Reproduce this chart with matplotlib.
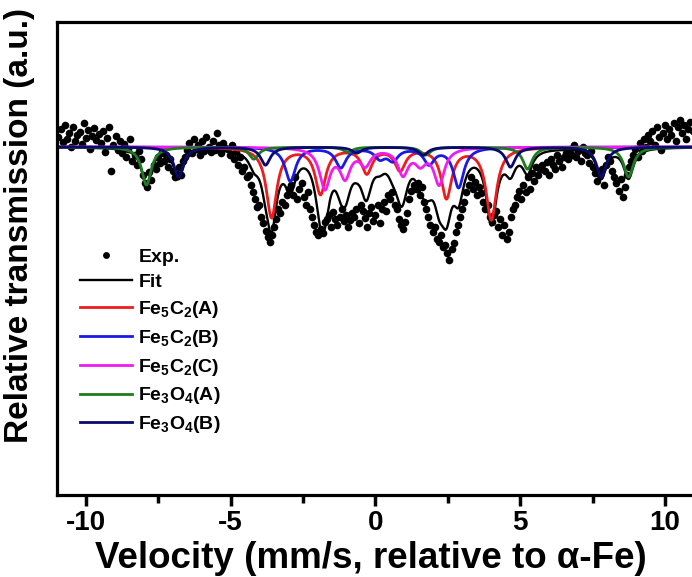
import numpy as np
import matplotlib
matplotlib.use('Agg')
import matplotlib.pyplot as plt
from matplotlib.ticker import MultipleLocator

plt.rcParams['font.family'] = ['Liberation Sans', 'DejaVu Sans']
plt.rcParams['font.weight'] = 'bold'
plt.rcParams['axes.unicode_minus'] = False
plt.rcParams['mathtext.fontset'] = 'custom'
plt.rcParams['mathtext.rm'] = 'Liberation Sans:bold'
plt.rcParams['mathtext.bf'] = 'Liberation Sans:bold'
plt.rcParams['mathtext.default'] = 'bf'

# 实验谱：速度网格 (mm/s) 和相对基线的吸收深度 (0.1 %)
exp_velocity = np.linspace(-10.95, 10.95, 301)
exp_depth = [
    -10, -18, -5, -22, -8, -14, 0, -20, -6, -12,
    -15, -3, -24, -9, -17, 2, -11, -19, -7, -13,
    -4, -16, 5, -9, -20, 24, -2, -11, 3, -6,
    6, -3, 10, 2, -8, 14, 8, 18, 4, 12,
    28, 36, 40, 25, 33, 18, 22, 10, 16, 5,
    14, 8, 20, 12, 24, 30, 27, 20, 28, 14,
    10, 3, -4, 6, -8, 2, -2, 8, -6, 4,
    -10, 0, 5, -6, 3, -14, -2, 6, -4, 1,
    2, 8, -2, 12, 5, 18, 10, 24, 20, 30,
    28, 38, 45, 52, 60, 58, 70, 76, 84, 90,
    95, 88, 80, 72, 62, 66, 55, 58, 48, 42,
    38, 48, 30, 52, 42, 36, 50, 58, 45, 62,
    70, 78, 85, 88, 82, 86, 75, 72, 68, 80,
    65, 72, 78, 70, 62, 74, 68, 80, 73, 66,
    70, 62, 76, 58, 64, 71, 80, 66, 60, 74,
    68, 58, 76, 62, 55, 64, 48, 52, 45, 58,
    62, 72, 78, 82, 75, 66, 52, 44, 38, 42,
    36, 48, 40, 55, 62, 70, 78, 85, 80, 92,
    95, 88, 100, 98, 106, 113, 102, 96, 85, 78,
    70, 62, 55, 45, 38, 30, 42, 35, 48, 40,
    46, 55, 62, 58, 70, 75, 68, 64, 80, 72,
    88, 78, 92, 85, 70, 62, 58, 50, 44, 52,
    38, 45, 30, 42, 26, 34, 20, 28, 22, 18,
    24, 15, 28, 12, 18, 22, 8, 14, 20, 10,
    6, 12, 2, 8, -2, 10, 4, 14, 0, 6,
    8, 16, 4, 20, 26, 34, 28, 22, 38, 18,
    10, 14, 24, 30, 36, 44, 32, 50, 40, 28,
    20, 14, 8, 2, 10, -4, 4, -8, 0, -12,
    -6, -16, -2, -20, -10, 3, -14, -22, -8, -18,
    -12, -24, -6, -20, -27, -14, -22, -8, -18, -25,
    -16,
]

# 各子谱：六条吸收线的位置 (mm/s)、深度 (0.1 %)、半宽 (mm/s)
fe5c2_a_pos = [-3.59, -1.90, -0.30, 0.85, 2.45, 4.00]
fe5c2_a_depth = [70, 46, 25, 22, 50, 72]
fe5c2_b_pos = [-2.94, -1.20, 0.15, 0.60, 1.85, 2.87]
fe5c2_b_depth = [34, 20, 10, 12, 16, 40]
fe5c2_c_pos = [-1.75, -1.05, -0.35, 0.95, 1.55, 2.20]
fe5c2_c_depth = [40, 28, 16, 26, 14, 36]
fe3o4_a_pos = [-7.91, -4.20, -0.95, 1.73, 5.25, 8.74]
fe3o4_a_depth = [38, 12, 5, 8, 22, 30]
fe3o4_b_pos = [-6.80, -3.80, -0.65, 1.65, 4.66, 7.80]
fe3o4_b_depth = [30, 18, 6, 8, 20, 30]
hwhm_carbide = 0.22
hwhm_oxide = 0.20

labels = ['Fe$_5$C$_2$(A)', 'Fe$_5$C$_2$(B)', 'Fe$_5$C$_2$(C)',
          'Fe$_3$O$_4$(A)', 'Fe$_3$O$_4$(B)']
colors = ['#ee1c1c', '#1a1ae6', '#f01cf0', '#1e7b1e', '#0a0a6e']

v = np.linspace(-11, 11, 2001)


def sextet(pos, depth, g):
    d = np.zeros_like(v)
    for p, a in zip(pos, depth):
        d += a * g**2 / ((v - p)**2 + g**2)
    return d


components = [
    sextet(fe5c2_a_pos, fe5c2_a_depth, hwhm_carbide),
    sextet(fe5c2_b_pos, fe5c2_b_depth, hwhm_carbide),
    sextet(fe5c2_c_pos, fe5c2_c_depth, hwhm_carbide),
    sextet(fe3o4_a_pos, fe3o4_a_depth, hwhm_oxide),
    sextet(fe3o4_b_pos, fe3o4_b_depth, hwhm_oxide),
]
fit = sum(components)

fig = plt.figure(figsize=(6.92, 5.77), dpi=100)
ax = fig.add_axes([57 / 692, 82 / 577, 637 / 692, 473 / 577])

ax.plot(exp_velocity, 1 - np.array(exp_depth) / 1000, 'o', color='black',
        markersize=5.5, markeredgewidth=0, label='Exp.')
ax.plot(v, 1 - fit / 1000, color='black', lw=1.7, label='Fit')
for comp, lab, c in zip(components, labels, colors):
    ax.plot(v, 1 - comp / 1000, color=c, lw=2, label=lab)

ax.set_xlim(-11, 11)
ax.set_ylim(0.652, 1.125)
ax.xaxis.set_major_locator(MultipleLocator(5))
ax.xaxis.set_minor_locator(MultipleLocator(2.5))
ax.set_yticks([])
ax.tick_params(axis='x', which='major', direction='out', length=8, width=2.5,
               labelsize=20, pad=3)
ax.tick_params(axis='x', which='minor', direction='out', length=6, width=2.5)
for sp in ax.spines.values():
    sp.set_linewidth(2.3)

ax.set_xlabel('Velocity (mm/s, relative to α-Fe)', fontsize=26.5, fontweight='bold')
ax.set_ylabel('Relative transmission (a.u.)', fontsize=24, fontweight='bold')
ax.xaxis.set_label_coords(0.493, -0.098)
ax.yaxis.set_label_coords(-0.034, 0.570)

ax.legend(loc='upper left', bbox_to_anchor=(0.03, 0.53), frameon=False,
          fontsize=14, handlelength=2.7, handletextpad=0.3, labelspacing=0.4,
          borderaxespad=0, borderpad=0.2, markerscale=0.9)

fig.savefig('out.png', dpi=100)
